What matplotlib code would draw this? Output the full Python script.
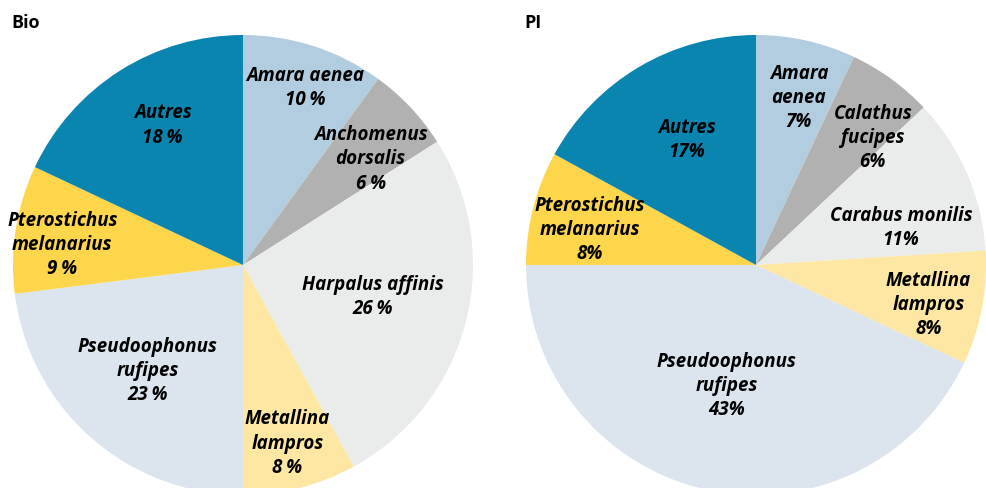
import numpy as np
import matplotlib
matplotlib.use("Agg")
import matplotlib.pyplot as plt

plt.rcParams['font.family'] = ['Open Sans', 'DejaVu Sans']

# Bio
bio_noms = ["Amara aenea", "Anchomenus\ndorsalis", "Harpalus affinis", "Metallina\nlampros",
            "Pseudoophonus\nrufipes", "Pterostichus\nmelanarius", "Autres"]
bio_valeurs = [10, 6, 26, 8, 23, 9, 18]
bio_couleurs = ["#b3cde0", "#b1b1b2", "#eaeceb", "#fee7a3", "#dce5ee", "#fdd64c", "#0a85b0"]

# PI
pi_noms = ["Amara\naenea", "Calathus\nfucipes", "Carabus monilis", "Metallina\nlampros",
           "Pseudoophonus\nrufipes", "Pterostichus\nmelanarius", "Autres"]
pi_valeurs = [7, 6, 11, 8, 43, 8, 17]
pi_couleurs = ["#b3cde0", "#b1b1b2", "#eaeceb", "#fee7a3", "#dce5ee", "#fdd64c", "#0a85b0"]

# position des etiquettes : fraction du rayon, decalage angulaire (deg, sens horaire)
bio_rayons = [0.815, 0.72, 0.58, 0.80, 0.62, 0.79, 0.70]
bio_decal = [1.3, 3.6, -0.4, 0.4, 0.6, -2.7, 2.4]
pi_rayons = [0.75, 0.75, 0.65, 0.77, 0.54, 0.74, 0.62]
pi_decal = [1.8, 6.6, 9.2, 2.2, 1.0, -2.5, 1.6]

R = 230


def camembert(ax, centre, noms, valeurs, couleurs, rayons, decal, sep, titre, xtitre):
    wedges, _ = ax.pie(valeurs, colors=couleurs, startangle=90, counterclock=False,
                       center=centre, radius=R, frame=True,
                       wedgeprops=dict(linewidth=0))
    for w, nom, v, fr, d in zip(wedges, noms, valeurs, rayons, decal):
        ang = np.deg2rad((w.theta1 + w.theta2) / 2 - d)
        x = centre[0] + R * fr * np.cos(ang)
        y = centre[1] + R * fr * np.sin(ang)
        ax.text(x, y, f"{nom}\n{v}{sep}%", ha='center', va='center',
                fontsize=13.5, fontweight='bold', fontstyle='italic',
                color='black', linespacing=1.28)
    ax.text(xtitre, 465, titre, ha='left', va='center', fontsize=13,
            fontweight='bold', color='black')


fig = plt.figure(figsize=(9.87, 4.88), dpi=100)
ax = fig.add_axes([0, 0, 1, 1])

camembert(ax, (243, 223), bio_noms, bio_valeurs, bio_couleurs, bio_rayons, bio_decal,
          "\u2009", "Bio", 11)
camembert(ax, (756, 223), pi_noms, pi_valeurs, pi_couleurs, pi_rayons, pi_decal,
          "", "PI", 524)

ax.set_xlim(0, 987)
ax.set_ylim(0, 488)
ax.set_aspect('equal')
ax.axis('off')

plt.savefig("out.png", dpi=100)
